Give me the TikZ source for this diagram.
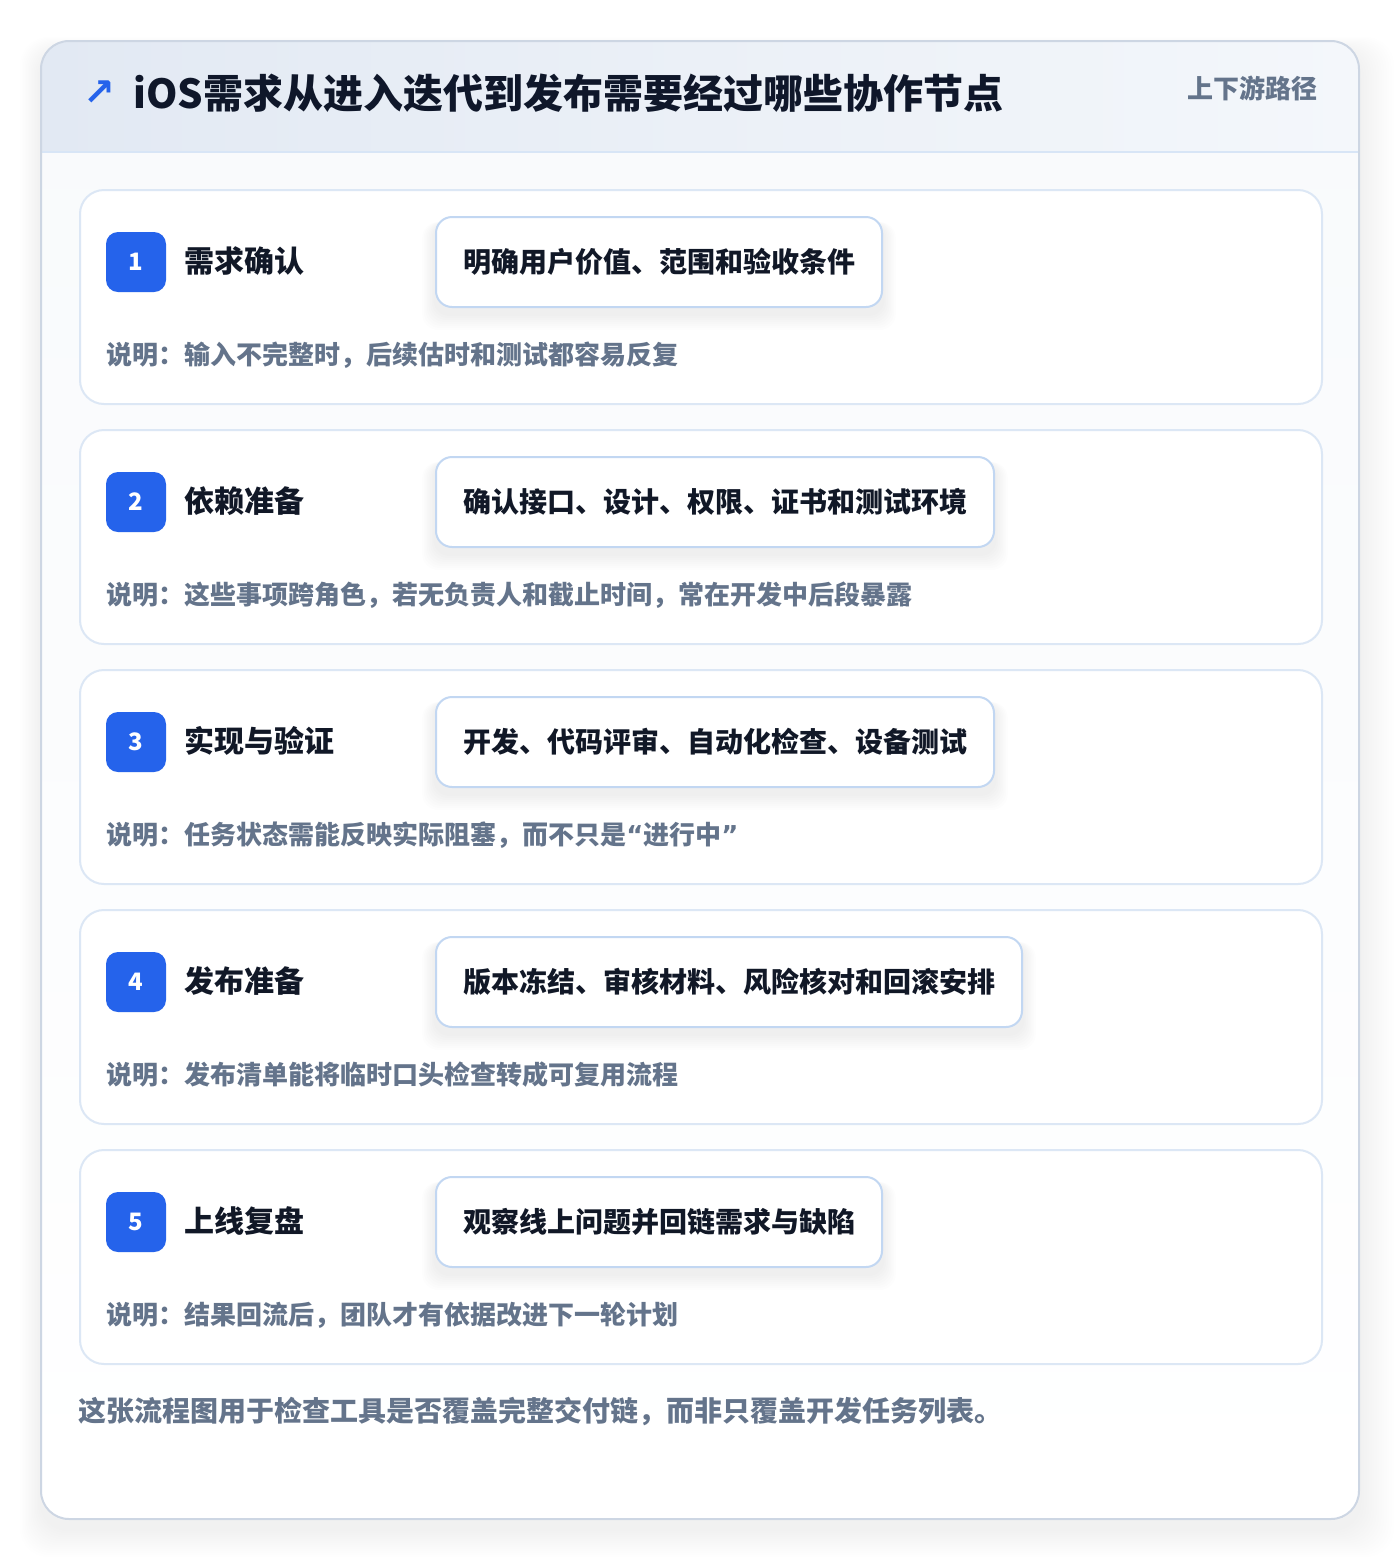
\documentclass[tikz,border=0pt]{standalone}
\usepackage{fontspec}
\setmainfont{Noto Sans CJK SC}
\newfontfamily\symfont{DejaVu Sans}
\usetikzlibrary{positioning}
\definecolor{ink}{HTML}{0F172A}
\definecolor{inktwo}{HTML}{111827}
\definecolor{muted}{HTML}{64748B}
\definecolor{accent}{HTML}{2563EB}
\definecolor{cardline}{HTML}{DCE7F5}
\definecolor{pillline}{HTML}{C2D7F2}
\definecolor{panelline}{HTML}{CDD6E3}
\definecolor{headleft}{HTML}{E2E9F3}
\definecolor{headright}{HTML}{F4F7FB}
\definecolor{headline}{HTML}{D8E5F6}
\definecolor{bodytop}{HTML}{F8FAFC}
\pgfdeclarelayer{back}
\pgfdeclarelayer{shade}
\pgfsetlayers{back,shade,main}
\tikzstyle{card} = [draw=cardline, line width=1pt, fill=white, rounded corners=12pt, minimum width=621pt, minimum height=107pt, anchor=north west, inner sep=0pt]
\tikzstyle{badge} = [fill=accent, rounded corners=6pt, minimum width=30pt, minimum height=30pt, inner sep=0pt, text=white, font=\fontsize{12}{14}\selectfont\bfseries]
\tikzstyle{steptitle} = [anchor=west, inner sep=0pt, text=inktwo, font=\fontsize{15}{18}\selectfont\bfseries]
\tikzstyle{task} = [draw=pillline, line width=1pt, fill=white, rounded corners=8pt, minimum height=45pt, inner xsep=13.5pt, anchor=west, text=inktwo, font=\fontsize{14}{17}\selectfont\bfseries]
\tikzstyle{note} = [anchor=west, inner sep=0pt, text=muted, font=\fontsize{13}{16}\selectfont\bfseries]
\newcommand{\openq}{{\symfont\bfseries “}}
\newcommand{\closeq}{{\symfont\bfseries ”}}

\begin{document}
\begin{tikzpicture}[x=0.5pt, y=-0.5pt]
	\useasboundingbox (0,0) rectangle (1400,1560);
	% soft shadow behind the panel
	\begin{pgfonlayer}{back}
		\foreach \k in {1,...,14}
			\fill [black, opacity=0.005, rounded corners=14pt] (41-\k*1.5,41-\k+10) rectangle (1359+\k*2.5,1519+\k*2+10);
		\fill [bottom color=white, top color=bodytop, rounded corners=14pt] (41,41) rectangle (1359,1519);
		\begin{scope}
			\clip [rounded corners=14pt] (41,41) rectangle (1359,1519);
			\fill [left color=headleft, right color=headright] (41,41) rectangle (1359,152);
		\end{scope}
		\draw [headline, line width=1pt] (41,152) -- (1359,152);
		\draw [panelline, line width=1pt, rounded corners=14pt] (41,41) rectangle (1359,1519);
	\end{pgfonlayer}

	\node (icon) [inner sep=0pt, text=accent, font=\symfont\fontsize{19}{22}\selectfont\bfseries] at (99,93) {↗};
	\node (heading) [anchor=west, inner sep=0pt, text=ink, font=\fontsize{20}{24}\selectfont\bfseries] at (133,93) {iOS需求从进入迭代到发布需要经过哪些协作节点};
	\node (pathtag) [anchor=east, inner sep=0pt, text=muted, font=\fontsize{13}{16}\selectfont\bfseries] at (1318,88) {上下游路径};

	\foreach \n/\ttl/\job/\why in {
		1/需求确认/明确用户价值、范围和验收条件/输入不完整时，后续估时和测试都容易反复,
		2/依赖准备/确认接口、设计、权限、证书和测试环境/这些事项跨角色，若无负责人和截止时间，常在开发中后段暴露,
		3/实现与验证/开发、代码评审、自动化检查、设备测试/任务状态需能反映实际阻塞，而不只是\openq 进行中\closeq,
		4/发布准备/版本冻结、审核材料、风险核对和回滚安排/发布清单能将临时口头检查转成可复用流程,
		5/上线复盘/观察线上问题并回链需求与缺陷/结果回流后，团队才有依据改进下一轮计划}
	{
		\pgfmathsetmacro\top{189+(\n-1)*240}
		\begin{pgfonlayer}{back}
			\node (card\n) [card] at (79,\top) {};
		\end{pgfonlayer}
		\node (badge\n) [badge] at (136,\top+73) {\n};
		\node (title\n) [steptitle] at (184,\top+72) {\ttl};
		\node (task\n) [task] at (435,\top+73) {\job};
		\begin{pgfonlayer}{shade}
			\foreach \k in {1,...,8}
				\fill [black, opacity=0.008, rounded corners=8pt] ([xshift=-\k*0.8pt, yshift=-3pt]task\n.north west) rectangle ([xshift=\k*0.8pt, yshift=-3pt-\k*1pt]task\n.south east);
		\end{pgfonlayer}
		\node (note\n) [note] at (106,\top+166) {说明：\why};
	}

	\node (summary) [anchor=west, inner sep=0pt, text=muted, font=\fontsize{14}{17}\selectfont\bfseries] at (78,1411) {这张流程图用于检查工具是否覆盖完整交付链，而非只覆盖开发任务列表。};
\end{tikzpicture}
\end{document}
